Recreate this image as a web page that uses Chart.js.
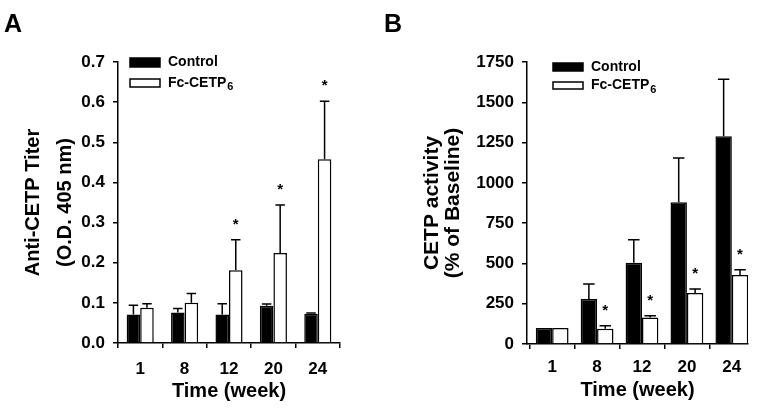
<!DOCTYPE html>
<html><head><meta charset="utf-8">
<script src="https://cdn.jsdelivr.net/npm/chart.js@4/dist/chart.umd.min.js"></script>
<style>
html,body{margin:0;padding:0;background:#fff;}
#wrap{position:relative;width:761px;height:409px;overflow:hidden;}
#ca{position:absolute;left:0;top:0;}
#cb{position:absolute;left:380px;top:0;}
</style></head><body>
<div id="wrap">
<canvas id="ca" width="380" height="409" style="width:380px;height:409px"></canvas>
<canvas id="cb" width="381" height="409" style="width:381px;height:409px"></canvas>
</div>
<script>
// ---------- data ----------
const weeks = ['1', '8', '12', '20', '24'];
const seriesControl = 'Control';
const seriesFc = 'Fc-CETP';
const seriesFcSub = '6';

// Panel A: Anti-CETP titer (O.D. 405 nm)
const titerControl    = [0.071, 0.076, 0.071, 0.093, 0.073];
const titerControlErr = [0.023, 0.010, 0.027, 0.004, 0.002];
const titerFc         = [0.088, 0.100, 0.181, 0.224, 0.458];
const titerFcErr      = [0.010, 0.023, 0.076, 0.120, 0.144];
const titerFcSig      = [false, false, true, true, true];
const titerTicksMax   = 0.7;
const titerTickStep   = 0.1;

// Panel B: CETP activity (% of baseline)
const activityControl    = [100, 280, 504, 880, 1290];
const activityControlErr = [0, 92, 143, 275, 353];
const activityFc         = [100, 95, 164, 316, 428];
const activityFcErr      = [0, 19, 12, 25, 33];
const activityFcSig      = [false, true, true, true, true];
const activityTicksMax   = 1750;
const activityTickStep   = 250;

// ---------- styling ----------
const FAM = '"Liberation Sans", Arial, Helvetica, sans-serif';
Chart.defaults.font.family = FAM;
Chart.defaults.color = '#000';

const errorBarPlugin = {
  id: 'errbars',
  afterDatasetsDraw(chart, args, o) {
    const ctx = chart.ctx, ys = chart.scales.y;
    ctx.save();
    ctx.strokeStyle = '#000'; ctx.fillStyle = '#000'; ctx.lineWidth = 1.5;
    ctx.font = 'bold 15px ' + FAM; ctx.textAlign = 'center'; ctx.textBaseline = 'middle';
    chart.data.datasets.forEach((ds, di) => {
      const meta = chart.getDatasetMeta(di);
      meta.data.forEach((bar, i) => {
        const raw = ds.data[i];
        const val = (typeof raw === 'object') ? raw.y : raw;
        const e = ds.errors ? ds.errors[i] : 0;
        const yTop = ys.getPixelForValue(val + e);
        if (e > 0) {
          const cap = bar.width * o.capRatio / 2;
          ctx.beginPath();
          ctx.moveTo(bar.x, bar.y); ctx.lineTo(bar.x, yTop);
          ctx.moveTo(bar.x - cap, yTop); ctx.lineTo(bar.x + cap, yTop);
          ctx.stroke();
        }
        if (ds.sig && ds.sig[i]) ctx.fillText('*', bar.x, yTop - o.starGap);
      });
    });
    ctx.restore();
  }
};

const boxLegendPlugin = {
  id: 'boxLegend',
  afterDraw(chart, args, o) {
    const ctx = chart.ctx;
    ctx.save();
    chart.data.datasets.forEach((ds, i) => {
      const it = o.items[i];
      ctx.fillStyle = ds.backgroundColor;
      ctx.fillRect(o.x, it.y, o.w, it.h);
      ctx.strokeStyle = '#000'; ctx.lineWidth = 1.5;
      ctx.strokeRect(o.x, it.y, o.w, it.h);
      ctx.fillStyle = '#000';
      ctx.font = 'bold 14px ' + FAM; ctx.textAlign = 'left'; ctx.textBaseline = 'middle';
      const ty = it.y + it.h / 2;
      ctx.fillText(ds.label, o.tx, ty);
      if (ds.sub) {
        const w = ctx.measureText(ds.label).width;
        ctx.font = 'bold 11px ' + FAM;
        ctx.fillText(ds.sub, o.tx + w + 1, ty + 4);
      }
    });
    ctx.font = 'bold 25px ' + FAM; ctx.textBaseline = 'alphabetic';
    ctx.fillText(o.letter, o.lx, o.ly);
    ctx.restore();
  }
};

function axisCommon() {
  return {
    grid: { display: true, drawOnChartArea: false, tickLength: 5, tickColor: '#000', tickWidth: 1.5, color: '#000', lineWidth: 1.5 },
    border: { display: true, color: '#000', width: 1.5 },
  };
}
const tickFont = { size: 17, weight: 'bold', family: FAM };

// ---------- Panel A ----------
new Chart(document.getElementById('ca'), {
  type: 'bar',
  data: {
    labels: weeks,
    datasets: [
      { label: seriesControl, data: titerControl, errors: titerControlErr, backgroundColor: '#000', borderColor: '#000', borderWidth: 1.5 },
      { label: seriesFc, sub: seriesFcSub, data: titerFc, errors: titerFcErr, sig: titerFcSig, backgroundColor: '#fff', borderColor: '#000', borderWidth: 1.5 }
    ]
  },
  options: {
    responsive: false, animation: false,
    layout: { padding: { left: 0, top: 62, right: 40, bottom: 0 } },
    datasets: { bar: { categoryPercentage: 0.61, barPercentage: 1 } },
    plugins: {
      legend: { display: false }, tooltip: { enabled: false },
      errbars: { capRatio: 0.7, starGap: 15 },
      boxLegend: { x: 130, w: 30, tx: 168, items: [{ y: 58, h: 9 }, { y: 79, h: 8 }], letter: 'A', lx: 4, ly: 32 }
    },
    scales: {
      x: Object.assign(axisCommon(), {
        offset: true,
        ticks: { color: '#000', font: tickFont, padding: 11 },
        title: { display: true, text: 'Time (week)', color: '#000', font: { size: 20, weight: 'bold', family: FAM }, padding: { top: 0, bottom: 6 } },
        afterFit: s => { s.height = 66; }
      }),
      y: Object.assign(axisCommon(), {
        min: 0, max: titerTicksMax,
        ticks: { stepSize: titerTickStep, color: '#000', font: tickFont, padding: 8, callback: v => v.toFixed(1) },
        title: { display: true, text: ['Anti-CETP Titer', '(O.D. 405 nm)'], color: '#000', font: { size: 20, weight: 'bold', family: FAM, lineHeight: 1.58 }, padding: { top: 18, bottom: 0 } },
        afterFit: s => { s.width = 118; }
      })
    }
  },
  plugins: [errorBarPlugin, boxLegendPlugin]
});

// ---------- Panel B ----------
new Chart(document.getElementById('cb'), {
  type: 'bar',
  data: {
    labels: weeks,
    datasets: [
      { label: seriesControl, data: weeks.map((w, i) => ({ x: i, y: activityControl[i] })), errors: activityControlErr, backgroundColor: '#000', borderColor: '#000', borderWidth: 1.5 },
      { label: seriesFc, sub: seriesFcSub, data: weeks.map((w, i) => ({ x: i, y: activityFc[i] })), errors: activityFcErr, sig: activityFcSig, backgroundColor: '#fff', borderColor: '#000', borderWidth: 1.5 }
    ]
  },
  options: {
    responsive: false, animation: false,
    layout: { padding: { left: 0, top: 62, right: 13, bottom: 0 } },
    datasets: { bar: { categoryPercentage: 0.73, barPercentage: 1 } },
    plugins: {
      legend: { display: false }, tooltip: { enabled: false },
      errbars: { capRatio: 0.7, starGap: 15 },
      boxLegend: { x: 173, w: 30, tx: 211, items: [{ y: 63, h: 8 }, { y: 82, h: 7 }], letter: 'B', lx: 4, ly: 32 }
    },
    scales: {
      x: Object.assign(axisCommon(), {
        type: 'linear', min: -0.56, max: 4.36, offset: false,
        afterBuildTicks: s => { s.ticks = weeks.map((w, i) => ({ value: i })); },
        ticks: { color: '#000', font: tickFont, padding: 8, callback: v => weeks[v] },
        title: { display: true, text: 'Time (week)', color: '#000', font: { size: 20, weight: 'bold', family: FAM }, padding: { top: 0, bottom: 7 } },
        afterFit: s => { s.height = 65; }
      }),
      y: Object.assign(axisCommon(), {
        min: 0, max: activityTicksMax,
        ticks: { stepSize: activityTickStep, color: '#000', font: tickFont, padding: 8, callback: v => String(v) },
        title: { display: true, text: ['CETP activity', '(% of Baseline)'], color: '#000', font: { size: 21, weight: 'bold', family: FAM, lineHeight: 1.03 }, padding: { top: 41, bottom: 0 } },
        afterFit: s => { s.width = 147; }
      })
    }
  },
  plugins: [errorBarPlugin, boxLegendPlugin]
});
</script>
</body></html>
